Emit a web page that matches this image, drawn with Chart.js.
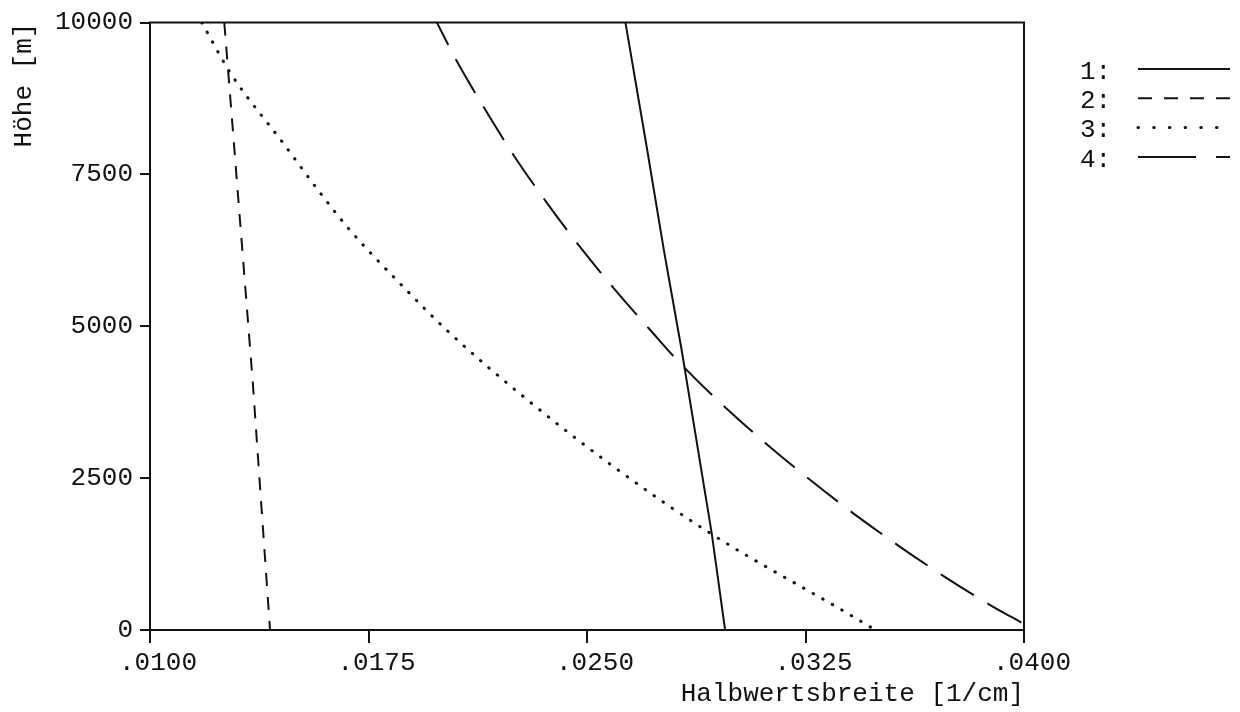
<!DOCTYPE html>
<html>
<head>
<meta charset="utf-8">
<script src="https://cdn.jsdelivr.net/npm/chart.js@4.4.0/dist/chart.umd.min.js"></script>
<style>
  html, body { margin: 0; padding: 0; background: #ffffff; }
  #wrap { width: 1240px; height: 712px; }
</style>
</head>
<body>
<div id="wrap"><canvas id="c" width="1240" height="712"></canvas></div>
<script>
// Curve labels and axis ticks
const seriesLabels = ['1', '2', '3', '4'];
const xTickValues = [0.0100, 0.0175, 0.0250, 0.0325, 0.0400];
const xTickLabels = ['.0100', '.0175', '.0250', '.0325', '.0400'];
const yTickValues = [0, 2500, 5000, 7500, 10000];
const yTickLabels = ['0', '2500', '5000', '7500', '10000'];
const xTitle = 'Halbwertsbreite [1/cm]';
const yTitle = 'Höhe [m]';

// Curve 1
const heights1 = [10000, 7895, 6250, 4605, 1595, 0];
const widths1  = [0.02632, 0.02707, 0.02764, 0.02825, 0.02928, 0.02974];

// Curve 2
const heights2 = [10000, 7895, 4062, 0];
const widths2  = [0.01255, 0.01290, 0.01353, 0.01412];

// Curve 3
const heights3 = [10000, 9178, 8010, 7122, 6579, 5646, 4880, 3837, 2686, 1590, 275, 0];
const widths3  = [0.01178, 0.01275, 0.01458, 0.01596, 0.01687, 0.01870, 0.02031, 0.02283, 0.02592, 0.02924, 0.03394, 0.03490];

// Curve 4
const heights4 = [10000, 9375, 8581, 7796, 7028, 6294, 5592, 4918, 4441, 3811, 3043, 2084, 1398, 888, 411, 99];
const widths4  = [0.01985, 0.02052, 0.02149, 0.02251, 0.02363, 0.02478, 0.02598, 0.02721, 0.02810, 0.02942, 0.03121, 0.03369, 0.03566, 0.03724, 0.03884, 0.04000];

const INK = '#111111';
const FONT_FAMILY = "'Liberation Mono', 'DejaVu Sans Mono', monospace";
const FONT = { family: FONT_FAMILY, size: 26 };

const toPoints = (w, h) => w.map((x, i) => ({ x, y: h[i] }));

// Closes the plot frame on the top and right sides
const framePlugin = {
  id: 'frame',
  afterDatasetsDraw(chart) {
    const { ctx, chartArea: a } = chart;
    ctx.save();
    ctx.strokeStyle = INK;
    ctx.lineWidth = 2;
    ctx.beginPath();
    ctx.moveTo(a.left - 1, a.top);
    ctx.lineTo(a.right, a.top);
    ctx.lineTo(a.right, a.bottom);
    ctx.stroke();
    ctx.restore();
  }
};

// Key on the right: "n:" followed by a sample of each line style
const keyPlugin = {
  id: 'key',
  afterDraw(chart, args, opts) {
    const { ctx } = chart;
    ctx.save();
    ctx.font = `${FONT.size}px ${FONT_FAMILY}`;
    ctx.fillStyle = INK;
    ctx.textBaseline = 'middle';
    ctx.textAlign = 'left';
    chart.data.datasets.forEach((ds, i) => {
      const y = opts.top + i * opts.rowGap;
      ctx.fillText(ds.label + ':', opts.textX, y + 3);
      ctx.strokeStyle = ds.borderColor;
      ctx.lineWidth = ds.borderWidth;
      ctx.lineCap = ds.borderCapStyle || 'butt';
      ctx.setLineDash(opts.dashes[i]);
      ctx.beginPath();
      ctx.moveTo(opts.lineX0, y);
      ctx.lineTo(opts.lineX1, y);
      ctx.stroke();
    });
    ctx.restore();
  }
};

const lineDefaults = {
  showLine: true,
  pointRadius: 0,
  pointHoverRadius: 0,
  borderColor: INK,
  fill: false
};

new Chart(document.getElementById('c'), {
  type: 'scatter',
  data: {
    datasets: [
      Object.assign({}, lineDefaults, {
        label: seriesLabels[0],
        data: toPoints(widths1, heights1),
        borderWidth: 2,
        tension: 0
      }),
      Object.assign({}, lineDefaults, {
        label: seriesLabels[1],
        data: toPoints(widths2, heights2),
        borderWidth: 2,
        borderDash: [13, 11],
        tension: 0
      }),
      Object.assign({}, lineDefaults, {
        label: seriesLabels[2],
        data: toPoints(widths3, heights3),
        borderWidth: 3,
        borderDash: [0.5, 10.5],
        borderCapStyle: 'round',
        cubicInterpolationMode: 'monotone'
      }),
      Object.assign({}, lineDefaults, {
        label: seriesLabels[3],
        data: toPoints(widths4, heights4),
        borderWidth: 2,
        borderDash: [39, 16],
        borderDashOffset: 14,
        cubicInterpolationMode: 'monotone'
      })
    ]
  },
  options: {
    responsive: false,
    devicePixelRatio: 1,
    animation: false,
    events: [],
    layout: { padding: { top: 22, right: 216, bottom: 0, left: 0 } },
    plugins: {
      legend: { display: false },
      tooltip: { enabled: false },
      key: {
        top: 69,
        rowGap: 29.3,
        textX: 1080,
        lineX0: 1138,
        lineX1: 1230,
        dashes: [[], [14, 12], [0.5, 15.2], [58, 20]]
      }
    },
    scales: {
      x: {
        type: 'linear',
        position: 'bottom',
        min: 0.01,
        max: 0.04,
        afterBuildTicks: s => { s.ticks = xTickValues.map(v => ({ value: v })); },
        afterFit: s => { s.height = 82; },
        ticks: {
          callback: (v, i) => xTickLabels[i],
          font: FONT,
          color: INK,
          padding: 5,
          labelOffset: 8,
          maxRotation: 0,
          autoSkip: false
        },
        grid: { drawOnChartArea: false, drawTicks: true, tickLength: 13, color: INK, lineWidth: 2 },
        border: { display: true, color: INK, width: 2 },
        title: { display: true, text: xTitle, align: 'end', font: FONT, color: INK, padding: { top: 0, bottom: 2 } }
      },
      y: {
        type: 'linear',
        position: 'left',
        min: 0,
        max: 10000,
        afterBuildTicks: s => { s.ticks = yTickValues.map(v => ({ value: v })); },
        afterFit: s => { s.width = 150; },
        ticks: {
          callback: (v, i) => yTickLabels[i],
          font: FONT,
          color: INK,
          padding: 7,
          autoSkip: false
        },
        grid: { drawOnChartArea: false, drawTicks: true, tickLength: 10, color: INK, lineWidth: 2 },
        border: { display: true, color: INK, width: 2 },
        title: { display: true, text: yTitle, align: 'end', font: FONT, color: INK, padding: { top: 9, bottom: 0 } }
      }
    }
  },
  plugins: [framePlugin, keyPlugin]
});
</script>
</body>
</html>
